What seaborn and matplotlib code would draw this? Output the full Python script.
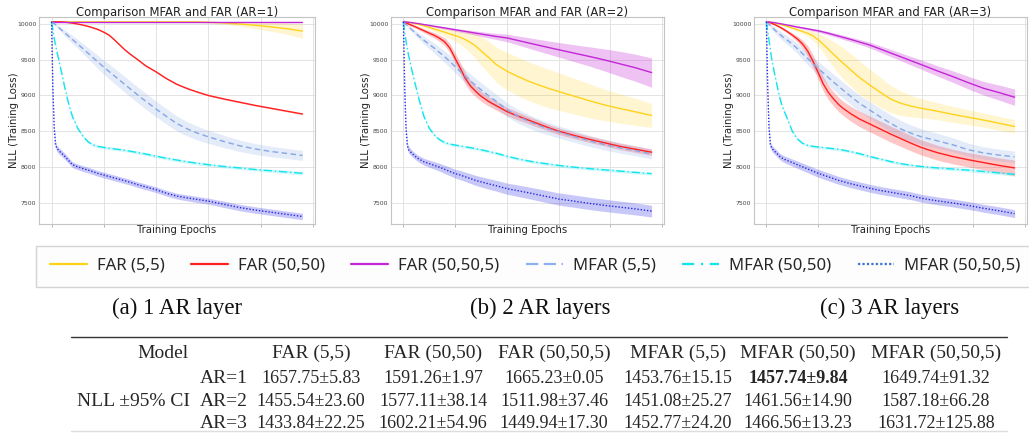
import matplotlib
matplotlib.use("Agg")
import matplotlib.pyplot as plt
import seaborn as sns
import pandas as pd
from matplotlib.patches import Rectangle
from matplotlib.lines import Line2D

# ---------------- data ----------------
epochs = [0, 0.5, 1, 1.5, 2, 3,
          4, 5, 6, 7, 8, 10,
          12, 14, 16, 18, 20, 22,
          24, 26, 28, 30, 33, 36,
          40, 44, 48, 52, 56, 60,
          66, 72, 78, 84, 90, 96]

series_names = ["FAR (5,5)", "FAR (50,50)", "FAR (50,50,5)",
                "MFAR (5,5)", "MFAR (50,50)", "MFAR (50,50,5)"]
panel_titles = ["Comparison MFAR and FAR (AR=1)", "Comparison MFAR and FAR (AR=2)",
                "Comparison MFAR and FAR (AR=3)"]
captions = ["(a) 1 AR layer", "(b) 2 AR layers", "(c) 3 AR layers"]

# ---- AR = 1 (mean NLL and half-width of the shaded band) ----
ar1_far_5_5 = [10030, 10030, 10030, 10030, 10030, 10030,
               10030, 10030, 10030, 10030, 10030, 10030,
               10030, 10030, 10030, 10030, 10030, 10030,
               10030, 10030, 10030, 10030, 10030, 10030,
               10030, 10030, 10030, 10030, 10030, 10025,
               10015, 10000, 9982, 9960, 9935, 9900]
ar1_far_5_5_ci = [0, 0, 0, 0, 0, 1,
                  1, 1, 1, 2, 2, 2,
                  2, 3, 3, 3, 3, 3,
                  3, 3, 3, 3, 3, 3,
                  4, 4, 5, 6, 8, 12,
                  20, 32, 45, 60, 80, 100]
ar1_far_50_50 = [10030, 10030, 10030, 10030, 10030, 10030,
                 10028, 10025, 10022, 10017, 10012, 10000,
                 9985, 9967, 9945, 9920, 9885, 9845,
                 9780, 9710, 9640, 9580, 9500, 9415,
                 9330, 9235, 9155, 9095, 9045, 9000,
                 8950, 8905, 8860, 8820, 8780, 8740]
ar1_far_50_50_ci = [0, 0, 0, 0, 0, 1,
                    2, 2, 3, 3, 4, 5,
                    6, 7, 8, 9, 10, 10,
                    10, 10, 10, 10, 10, 10,
                    10, 10, 10, 10, 10, 10,
                    10, 10, 10, 10, 10, 10]
ar1_far_50_50_5 = [10030, 10030, 10030, 10030, 10030, 10030,
                   10030, 10030, 10030, 10030, 10030, 10030,
                   10030, 10030, 10030, 10030, 10030, 10030,
                   10030, 10030, 10030, 10030, 10030, 10030,
                   10030, 10030, 10030, 10030, 10030, 10030,
                   10030, 10030, 10030, 10030, 10030, 10030]
ar1_far_50_50_5_ci = [0, 1, 1, 2, 2, 2,
                      3, 3, 3, 3, 3, 3,
                      3, 3, 3, 3, 3, 3,
                      3, 3, 3, 3, 3, 3,
                      3, 3, 3, 3, 3, 3,
                      3, 3, 3, 3, 3, 3]
ar1_mfar_5_5 = [10030, 10018, 10005, 9990, 9975, 9942,
                9910, 9878, 9846, 9814, 9782, 9720,
                9655, 9590, 9525, 9460, 9395, 9335,
                9275, 9215, 9155, 9095, 9005, 8920,
                8810, 8705, 8605, 8530, 8470, 8420,
                8355, 8295, 8250, 8215, 8188, 8160]
ar1_mfar_5_5_ci = [0, 5, 10, 15, 20, 28,
                   35, 40, 45, 50, 55, 62,
                   70, 78, 85, 92, 98, 102,
                   106, 108, 110, 110, 110, 110,
                   110, 108, 105, 100, 96, 92,
                   86, 80, 76, 73, 71, 70]
ar1_mfar_50_50 = [10030, 9920, 9800, 9710, 9620, 9460,
                  9290, 9120, 8960, 8820, 8705, 8540,
                  8430, 8350, 8305, 8285, 8272, 8262,
                  8252, 8242, 8232, 8220, 8200, 8180,
                  8150, 8120, 8095, 8070, 8050, 8030,
                  8005, 7985, 7962, 7945, 7928, 7910]
ar1_mfar_50_50_ci = [0, 15, 18, 20, 20, 20,
                     20, 20, 20, 20, 20, 20,
                     20, 20, 20, 20, 20, 20,
                     20, 20, 20, 20, 22, 22,
                     22, 22, 22, 22, 22, 22,
                     22, 22, 22, 22, 24, 24]
ar1_mfar_50_50_5 = [10030, 9100, 8550, 8320, 8260, 8220,
                    8185, 8150, 8110, 8070, 8030, 8000,
                    7975, 7955, 7930, 7905, 7885, 7865,
                    7845, 7825, 7805, 7785, 7750, 7720,
                    7680, 7630, 7590, 7565, 7542, 7520,
                    7475, 7430, 7395, 7365, 7335, 7305]
ar1_mfar_50_50_5_ci = [0, 60, 50, 45, 42, 42,
                       42, 42, 42, 40, 40, 40,
                       40, 40, 40, 40, 40, 40,
                       40, 40, 40, 40, 40, 40,
                       40, 40, 40, 42, 42, 42,
                       44, 45, 45, 45, 45, 45]

# ---- AR = 2 ----
ar2_far_5_5 = [10030, 10029, 10028, 10026, 10024, 10018,
               10010, 10002, 9993, 9984, 9974, 9952,
               9930, 9908, 9885, 9862, 9838, 9815,
               9780, 9740, 9690, 9625, 9530, 9430,
               9340, 9270, 9205, 9150, 9100, 9055,
               8990, 8925, 8865, 8815, 8768, 8720]
ar2_far_5_5_ci = [0, 0, 1, 2, 3, 5,
                  8, 10, 13, 16, 20, 28,
                  36, 45, 55, 65, 80, 100,
                  125, 150, 175, 200, 225, 245,
                  262, 270, 272, 272, 270, 262,
                  250, 238, 220, 205, 188, 168]
ar2_far_50_50 = [10030, 10022, 10015, 10008, 10000, 9985,
                 9970, 9955, 9938, 9922, 9905, 9872,
                 9840, 9800, 9750, 9660, 9520, 9380,
                 9235, 9130, 9055, 8990, 8915, 8855,
                 8775, 8715, 8660, 8605, 8550, 8500,
                 8440, 8385, 8335, 8285, 8245, 8205]
ar2_far_50_50_ci = [40, 30, 25, 22, 20, 20,
                    20, 22, 24, 26, 28, 32,
                    38, 45, 55, 65, 75, 80,
                    82, 80, 75, 70, 66, 62,
                    58, 55, 52, 50, 48, 47,
                    45, 45, 45, 45, 45, 45]
ar2_far_50_50_5 = [10030, 10029, 10028, 10026, 10024, 10020,
                   10015, 10010, 10004, 9998, 9992, 9980,
                   9968, 9956, 9944, 9932, 9920, 9908,
                   9896, 9884, 9872, 9860, 9842, 9825,
                   9805, 9772, 9738, 9705, 9672, 9640,
                   9592, 9545, 9495, 9440, 9385, 9320]
ar2_far_50_50_5_ci = [0, 0, 1, 1, 2, 3,
                      4, 5, 6, 7, 8, 10,
                      12, 14, 16, 18, 20, 22,
                      24, 27, 30, 33, 38, 43,
                      52, 62, 72, 82, 92, 102,
                      118, 135, 155, 175, 190, 205]
ar2_mfar_5_5 = [10030, 10012, 9995, 9978, 9960, 9928,
                9895, 9862, 9830, 9800, 9770, 9715,
                9660, 9600, 9540, 9475, 9405, 9335,
                9265, 9200, 9140, 9080, 8995, 8915,
                8800, 8715, 8645, 8585, 8535, 8490,
                8425, 8365, 8310, 8265, 8225, 8180]
ar2_mfar_5_5_ci = [0, 5, 10, 15, 20, 26,
                   32, 38, 44, 50, 55, 62,
                   70, 76, 82, 86, 90, 92,
                   94, 96, 98, 100, 100, 100,
                   98, 96, 94, 92, 88, 85,
                   82, 78, 75, 73, 71, 70]
ar2_mfar_50_50 = [10030, 9890, 9760, 9650, 9560, 9395,
                  9240, 9095, 8950, 8820, 8700, 8540,
                  8445, 8380, 8340, 8318, 8305, 8292,
                  8280, 8268, 8255, 8240, 8215, 8190,
                  8150, 8115, 8085, 8060, 8040, 8020,
                  7995, 7975, 7958, 7940, 7922, 7905]
ar2_mfar_50_50_ci = [0, 15, 18, 20, 20, 20,
                     20, 20, 20, 20, 20, 20,
                     20, 20, 20, 20, 20, 20,
                     20, 20, 20, 20, 20, 20,
                     20, 20, 20, 22, 22, 22,
                     22, 22, 22, 22, 22, 22]
ar2_mfar_50_50_5 = [10030, 9100, 8550, 8300, 8240, 8200,
                    8165, 8135, 8110, 8090, 8070, 8045,
                    8020, 7995, 7965, 7935, 7905, 7885,
                    7860, 7835, 7810, 7790, 7762, 7735,
                    7695, 7668, 7640, 7610, 7580, 7550,
                    7520, 7488, 7460, 7435, 7410, 7380]
ar2_mfar_50_50_5_ci = [0, 60, 50, 45, 45, 45,
                       45, 45, 46, 47, 48, 50,
                       52, 55, 58, 60, 62, 64,
                       66, 68, 70, 72, 74, 76,
                       78, 80, 82, 84, 85, 86,
                       86, 86, 86, 85, 84, 82]

# ---- AR = 3 ----
ar3_far_5_5 = [10030, 10029, 10027, 10025, 10022, 10015,
               10007, 9998, 9988, 9978, 9968, 9945,
               9920, 9895, 9870, 9835, 9780, 9715,
               9645, 9575, 9505, 9440, 9345, 9250,
               9145, 9045, 8950, 8890, 8850, 8820,
               8780, 8735, 8695, 8655, 8610, 8565]
ar3_far_5_5_ci = [0, 0, 1, 2, 3, 5,
                  7, 9, 11, 13, 15, 20,
                  25, 32, 45, 65, 90, 120,
                  150, 180, 205, 220, 230, 232,
                  225, 210, 190, 170, 150, 135,
                  120, 112, 105, 100, 97, 95]
ar3_far_50_50 = [10030, 10026, 10022, 10016, 10010, 9995,
                 9978, 9960, 9940, 9918, 9895, 9845,
                 9790, 9720, 9620, 9480, 9320, 9160,
                 9040, 8950, 8870, 8810, 8735, 8670,
                 8600, 8530, 8460, 8395, 8330, 8270,
                 8200, 8145, 8100, 8060, 8020, 7985]
ar3_far_50_50_ci = [0, 2, 4, 6, 8, 10,
                    12, 15, 18, 20, 22, 30,
                    40, 55, 75, 90, 95, 100,
                    100, 100, 100, 100, 105, 108,
                    110, 112, 112, 110, 108, 106,
                    104, 102, 100, 102, 106, 110]
ar3_far_50_50_5 = [10030, 10029, 10028, 10026, 10024, 10019,
                   10013, 10007, 10000, 9993, 9986, 9972,
                   9958, 9945, 9932, 9918, 9905, 9888,
                   9870, 9850, 9830, 9810, 9780, 9748,
                   9705, 9650, 9595, 9540, 9485, 9430,
                   9345, 9265, 9180, 9100, 9040, 8975]
ar3_far_50_50_5_ci = [0, 0, 1, 1, 2, 3,
                      4, 5, 6, 7, 8, 10,
                      12, 14, 16, 18, 20, 22,
                      24, 26, 28, 30, 32, 35,
                      40, 45, 50, 55, 60, 65,
                      72, 80, 88, 96, 105, 115]
ar3_mfar_5_5 = [10030, 10012, 9995, 9978, 9960, 9925,
                9890, 9860, 9830, 9800, 9775, 9720,
                9655, 9585, 9515, 9445, 9380, 9315,
                9250, 9185, 9125, 9065, 8975, 8890,
                8795, 8700, 8610, 8530, 8470, 8420,
                8365, 8310, 8240, 8195, 8165, 8140]
ar3_mfar_5_5_ci = [0, 8, 15, 22, 30, 38,
                   45, 50, 55, 58, 60, 65,
                   72, 80, 88, 92, 95, 100,
                   105, 108, 110, 112, 114, 116,
                   118, 120, 120, 118, 115, 112,
                   105, 98, 92, 86, 82, 80]
ar3_mfar_50_50 = [10030, 9900, 9775, 9650, 9520, 9330,
                  9160, 8990, 8860, 8770, 8680, 8500,
                  8390, 8330, 8300, 8287, 8278, 8270,
                  8262, 8254, 8245, 8232, 8210, 8185,
                  8145, 8110, 8075, 8045, 8022, 8005,
                  7985, 7970, 7955, 7935, 7915, 7895]
ar3_mfar_50_50_ci = [0, 15, 18, 20, 20, 20,
                     20, 20, 20, 20, 20, 20,
                     20, 20, 20, 20, 20, 20,
                     20, 20, 20, 20, 20, 20,
                     20, 20, 20, 20, 20, 20,
                     22, 22, 24, 24, 25, 25]
ar3_mfar_50_50_5 = [10030, 9100, 8550, 8320, 8265, 8225,
                    8190, 8150, 8125, 8105, 8090, 8060,
                    8030, 8000, 7970, 7940, 7910, 7885,
                    7860, 7835, 7810, 7790, 7760, 7735,
                    7700, 7670, 7645, 7620, 7595, 7560,
                    7525, 7495, 7460, 7420, 7385, 7345]
ar3_mfar_50_50_5_ci = [0, 60, 50, 45, 45, 45,
                       45, 45, 46, 47, 48, 50,
                       52, 52, 52, 54, 55, 55,
                       55, 55, 55, 55, 55, 55,
                       55, 55, 55, 55, 55, 55,
                       55, 55, 55, 55, 55, 55]

panel_means = [
    [ar1_far_5_5, ar1_far_50_50, ar1_far_50_50_5, ar1_mfar_5_5, ar1_mfar_50_50, ar1_mfar_50_50_5],
    [ar2_far_5_5, ar2_far_50_50, ar2_far_50_50_5, ar2_mfar_5_5, ar2_mfar_50_50, ar2_mfar_50_50_5],
    [ar3_far_5_5, ar3_far_50_50, ar3_far_50_50_5, ar3_mfar_5_5, ar3_mfar_50_50, ar3_mfar_50_50_5],
]
panel_cis = [
    [ar1_far_5_5_ci, ar1_far_50_50_ci, ar1_far_50_50_5_ci, ar1_mfar_5_5_ci, ar1_mfar_50_50_ci, ar1_mfar_50_50_5_ci],
    [ar2_far_5_5_ci, ar2_far_50_50_ci, ar2_far_50_50_5_ci, ar2_mfar_5_5_ci, ar2_mfar_50_50_ci, ar2_mfar_50_50_5_ci],
    [ar3_far_5_5_ci, ar3_far_50_50_ci, ar3_far_50_50_5_ci, ar3_mfar_5_5_ci, ar3_mfar_50_50_ci, ar3_mfar_50_50_5_ci],
]

yticks = [7500, 8000, 8500, 9000, 9500, 10000]

# ---- table ----
table_rows = ["AR=1", "AR=2", "AR=3"]
table_values = [
    ["1657.75±5.83", "1591.26±1.97", "1665.23±0.05", "1453.76±15.15", "1457.74±9.84", "1649.74±91.32"],
    ["1455.54±23.60", "1577.11±38.14", "1511.98±37.46", "1451.08±25.27", "1461.56±14.90", "1587.18±66.28"],
    ["1433.84±22.25", "1602.21±54.96", "1449.94±17.30", "1452.77±24.20", "1466.56±13.23", "1631.72±125.88"],
]
bold_cell = (0, 4)

# ---------------- style ----------------
colors = {"FAR (5,5)": "#FFD21A", "FAR (50,50)": "#FF1F1F", "FAR (50,50,5)": "#C326D6",
          "MFAR (5,5)": "#86A6E6", "MFAR (50,50)": "#12E4EE", "MFAR (50,50,5)": "#2727E6"}
legend_colors = dict(colors, **{"MFAR (5,5)": "#8CB0F0", "MFAR (50,50,5)": "#3A72D6"})
band_alpha = {"FAR (5,5)": 0.2, "FAR (50,50)": 0.25, "FAR (50,50,5)": 0.28,
              "MFAR (5,5)": 0.22, "MFAR (50,50)": 0.2, "MFAR (50,50,5)": 0.25}
dashes = {"FAR (5,5)": "", "FAR (50,50)": "", "FAR (50,50,5)": "",
          "MFAR (5,5)": (4, 2.5), "MFAR (50,50)": (6, 2, 1, 2), "MFAR (50,50,5)": (1, 1.3)}
legend_dashes = {"MFAR (5,5)": (5.5, 2.5), "MFAR (50,50)": (5.5, 3, 1, 3), "MFAR (50,50,5)": (1, 1)}

W, H = 1029, 440
sns.set_style("whitegrid")
plt.rcParams["font.family"] = ["DejaVu Sans"]

fig = plt.figure(figsize=(W / 100, H / 100), dpi=100)


def fx(px):
    return px / W


def fy(py):
    return 1 - py / H


axes_px = [(39, 315, 17, 224), (391, 664, 17, 224), (754, 1027, 17, 224)]

for p in range(3):
    l, r, t, b = axes_px[p]
    ax = fig.add_axes([fx(l), fy(b), (r - l) / W, (b - t) / H])
    rows = []
    for s, name in enumerate(series_names):
        for e, m in zip(epochs, panel_means[p][s]):
            rows.append({"epoch": e, "nll": m, "series": name})
    df = pd.DataFrame(rows)
    for s, name in enumerate(series_names):
        lo = [m - c for m, c in zip(panel_means[p][s], panel_cis[p][s])]
        hi = [m + c for m, c in zip(panel_means[p][s], panel_cis[p][s])]
        ax.fill_between(epochs, lo, hi, color=colors[name], alpha=band_alpha[name], linewidth=0)
    sns.lineplot(data=df, x="epoch", y="nll", hue="series", style="series",
                 hue_order=series_names, style_order=series_names,
                 palette=colors, dashes=dashes, linewidth=1.0, legend=False,
                 errorbar=None, sort=True, ax=ax)
    ax.set_xlim(-4.8, 100.8)
    ax.set_ylim(7200, 10098)
    ax.set_xticks([0, 20, 40, 60, 80, 100])
    ax.set_xticklabels([])
    ax.set_yticks(yticks)
    ax.set_yticklabels([str(v) for v in yticks])
    ax.tick_params(axis="y", labelsize=4.4, length=0, pad=2, colors="#444444")
    ax.tick_params(axis="x", length=2.5, width=0.6, color="#aaaaaa", direction="out", bottom=True,
                   pad=0)
    ax.grid(True, color="#dedede", linewidth=0.6)
    for sp in ax.spines.values():
        sp.set_color("#c4c4c4")
        sp.set_linewidth(0.8)
    ax.set_title(panel_titles[p], fontsize=8.4, pad=0.8, color="#222222")
    ax.set_xlabel("Training Epochs", fontsize=7.3, labelpad=-1.5, color="#222222")
    ax.set_ylabel("NLL (Training Loss)", fontsize=7.3, labelpad=-1.5, color="#222222")

# legend box
fig.add_artist(Rectangle((fx(36), fy(287)), fx(1040) - fx(36), fy(246) - fy(287),
                         transform=fig.transFigure, facecolor="#fdfdfd",
                         edgecolor="#d4d4d4", linewidth=1.0))
handles = []
for n in series_names:
    kw = {"dashes": legend_dashes[n]} if n in legend_dashes else {}
    handles.append(Line2D([], [], color=legend_colors[n], linewidth=1.6, **kw))
leg = fig.legend(handles, series_names, loc="center left", bbox_to_anchor=(fx(50), fy(266)),
                 ncol=6, frameon=False, borderpad=0, borderaxespad=0,
                 prop={"family": "Noto Sans", "size": 12}, handlelength=2.2,
                 handletextpad=0.6, columnspacing=1.6)

# captions
cap_x = [177, 540, 890]
for cx, txt in zip(cap_x, captions):
    fig.text(fx(cx), fy(308), txt, ha="center", va="center",
             family="Liberation Serif", fontsize=16.5, color="#111111")

# table
col_x = [311, 433, 554, 678, 798, 936]
row_y = [378, 401, 423]
fig.add_artist(Line2D([fx(71), fx(1007)], [fy(337), fy(337)], color="#333333", linewidth=1.0,
                      transform=fig.transFigure))
fig.add_artist(Line2D([fx(71), fx(1007)], [fy(431), fy(431)], color="#dddddd", linewidth=1.0,
                      transform=fig.transFigure))
serif = "Liberation Serif"
fig.text(fx(189), fy(353), "Model", ha="right", va="center", family=serif, fontsize=14)
for cx, name in zip(col_x, series_names):
    fig.text(fx(cx), fy(353), name, ha="center", va="center", family=serif, fontsize=14)
fig.text(fx(190), fy(row_y[1]), "NLL ±95% CI", ha="right", va="center", family=serif, fontsize=14)
for ri, (ry, rl) in enumerate(zip(row_y, table_rows)):
    fig.text(fx(200), fy(ry), rl, ha="left", va="center", family=serif, fontsize=14)
    for ci, cx in enumerate(col_x):
        fig.text(fx(cx), fy(ry), table_values[ri][ci], ha="center", va="center", family=serif,
                 fontsize=13, fontweight=("bold" if (ri, ci) == bold_cell else "normal"))

fig.savefig("out.png", dpi=100)
